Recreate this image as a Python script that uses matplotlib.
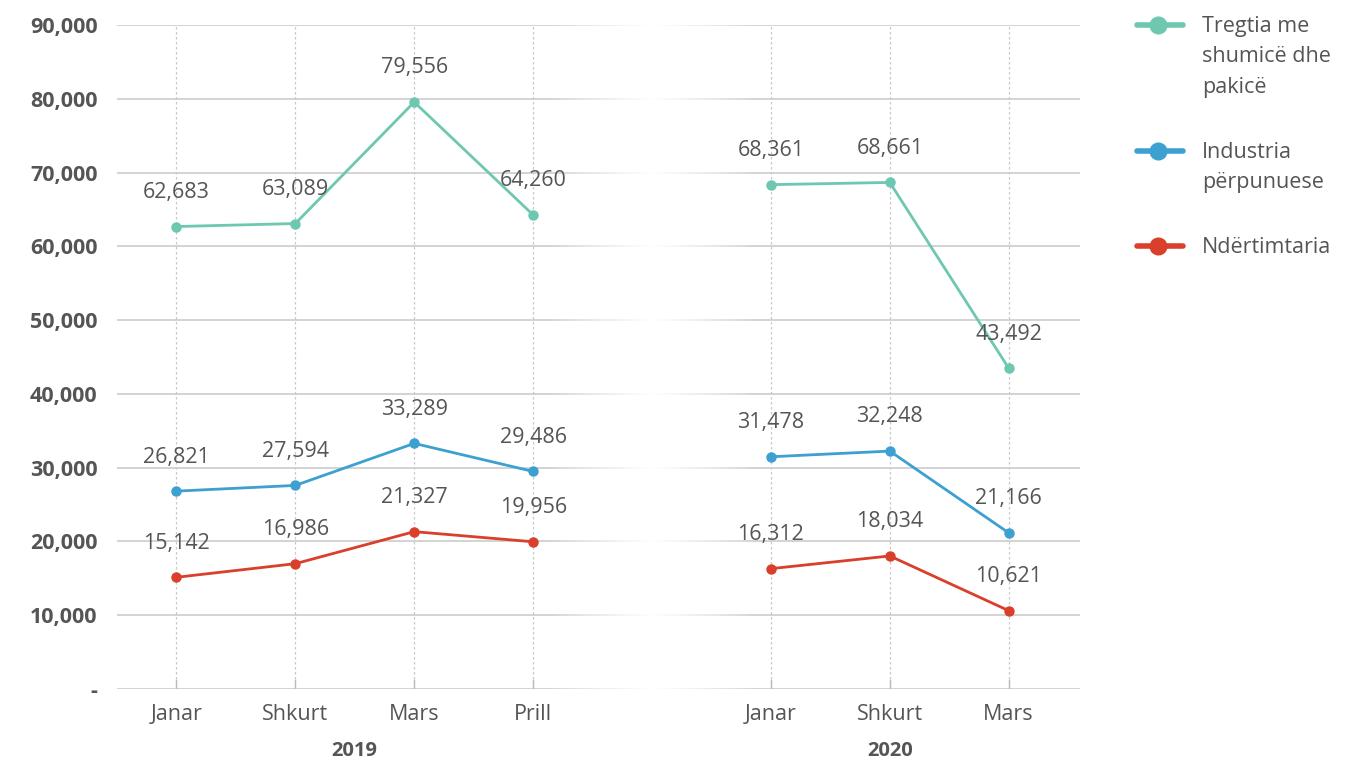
import numpy as np
import matplotlib.pyplot as plt
from matplotlib.lines import Line2D

plt.rcParams['font.family'] = ['Open Sans', 'DejaVu Sans']

months_2019 = ['Janar', 'Shkurt', 'Mars', 'Prill']
months_2020 = ['Janar', 'Shkurt', 'Mars']
years = ['2019', '2020']

series_names = ['Tregtia me\nshumicë dhe\npakicë', 'Industria\npërpunuese', 'Ndërtimtaria']
colors = ['#6dc7b1', '#3ca0d0', '#d93f2a']

tregtia_2019 = [62683, 63089, 79556, 64260]
tregtia_2020 = [68361, 68661, 43492]
industria_2019 = [26821, 27594, 33289, 29486]
industria_2020 = [31478, 32248, 21166]
ndertimtaria_2019 = [15142, 16986, 21327, 19956]
ndertimtaria_2020 = [16312, 18034, 10621]

yticks = np.arange(0, 90001, 10000)

# x positions: 2019 months, one empty slot, then 2020 months
x19 = np.arange(len(months_2019))
x20 = np.arange(len(months_2020)) + len(months_2019) + 1
gap = len(months_2019)
xmin, xmax = -0.5, 7.6

fig = plt.figure(figsize=(13.46, 7.6), dpi=100)
ax = fig.add_axes([117 / 1346, 1 - 689 / 760, (1080 - 117) / 1346, 664 / 760])

grid_col = '#c8c8c8'
text_col = '#555555'

# horizontal grid, faded in the gap between years
for y in yticks:
    ax.plot([xmin, xmax], [y, y], color=grid_col, lw=1.1, zorder=1)
grad = np.abs(np.linspace(-1, 1, 200))
fade = np.ones((2, 200, 4))
fade[..., 3] = np.clip(1.0 - grad, 0, 1) ** 0.8
ax.imshow(fade, extent=[gap - 0.85, gap + 0.85, 0, 90000], aspect='auto', zorder=1.5, interpolation='bilinear')

# vertical dotted grid
for x in list(x19) + list(x20):
    ax.plot([x, x], [0, 90000], color='#c8c8c8', lw=0.9, ls=(0, (2, 2)), zorder=1.6)
    ax.plot([x, x], [0, 1200], color='#bbbbbb', lw=1, zorder=1.6)

data = [(tregtia_2019, tregtia_2020), (industria_2019, industria_2020), (ndertimtaria_2019, ndertimtaria_2020)]
for (v19, v20), c in zip(data, colors):
    for xs, vs in ((x19, v19), (x20, v20)):
        ax.plot(xs, vs, color=c, lw=2, marker='o', ms=6.5, zorder=3)
        for x, v in zip(xs, vs):
            ax.annotate(f'{v:,}', (x, v), xytext=(0, 17), textcoords='offset points',
                        ha='center', va='bottom', fontsize=15.5, color=text_col, zorder=4)

ax.set_xlim(xmin, xmax)
ax.set_ylim(0, 90000)
ax.set_yticks(yticks)
ax.set_yticklabels(['-'] + [f'{v:,}' for v in yticks[1:]], fontsize=15.5, fontweight='bold', color=text_col)
ax.set_xticks(list(x19) + list(x20))
ax.set_xticklabels(months_2019 + months_2020, fontsize=15.5, color=text_col)
ax.tick_params(axis='y', length=0, pad=14)
ax.tick_params(axis='x', length=0, pad=11)
for s in ax.spines.values():
    s.set_visible(False)

ax.text(np.mean(x19), -0.093, years[0], transform=ax.get_xaxis_transform(), ha='center', va='center',
        fontsize=14.5, fontweight='bold', color=text_col)
ax.text(np.mean(x20), -0.093, years[1], transform=ax.get_xaxis_transform(), ha='center', va='center',
        fontsize=14.5, fontweight='bold', color=text_col)

# legend
leg_y = [25, 151, 246]
for name, c, yy in zip(series_names, colors, leg_y):
    yf = 1 - yy / 760
    fig.add_artist(Line2D([1137 / 1346, 1183 / 1346], [yf, yf], color=c, lw=4,
                          solid_capstyle='round', transform=fig.transFigure))
    fig.add_artist(Line2D([1158 / 1346], [yf], color=c, marker='o', ms=12, transform=fig.transFigure))
    fig.text(1202 / 1346, yf + 0.012, name, ha='left', va='top', fontsize=15.5, color=text_col,
             linespacing=1.6)

fig.savefig('out.png', dpi=100)
